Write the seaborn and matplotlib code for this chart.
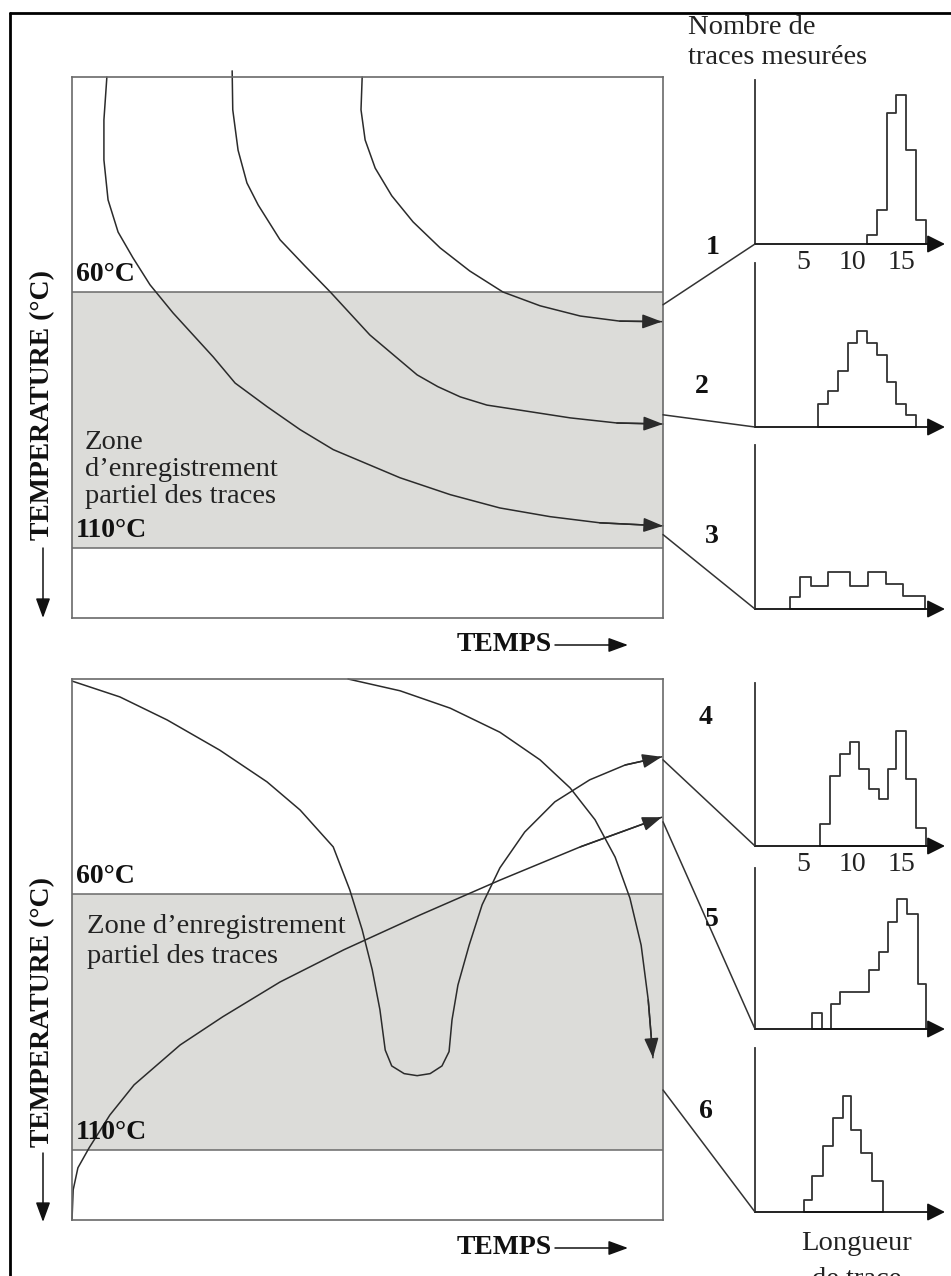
import numpy as np
import pandas as pd
import matplotlib
matplotlib.use("Agg")
import matplotlib.pyplot as plt
from matplotlib.patches import ConnectionPatch, FancyArrowPatch
from matplotlib.lines import Line2D
import seaborn as sns

sns.set_style("white")
plt.rcParams['font.family'] = ['Liberation Serif', 'DejaVu Serif']

W, H = 951, 1276

# ---------------- data ----------------
T_TOP, T_BOT = 18.0, 123.7          # temperature range of the panels (°C)
ZONE = (60, 110)                    # partial annealing zone (°C)

# upper panel: three thermal paths (time %, temperature °C)
p1_time = [49.1, 48.9, 49.6, 51.3, 54.1, 57.7, 62.3, 67.3, 72.9, 79.2, 86.0, 92.7, 99.8]
p1_temp = [18.0, 24.4, 30.3, 35.8, 41.2, 46.3, 51.4, 55.9, 60.0, 62.7, 64.7, 65.7, 65.8]
p2_time = [27.1, 27.2, 28.1, 29.6, 31.5, 35.2, 39.4, 43.7, 50.4, 58.4, 61.9, 65.7, 70.2, 75.3, 84.3, 92.2, 100.0]
p2_temp = [16.8, 24.4, 32.3, 38.7, 43.0, 49.8, 54.9, 60.0, 68.4, 76.2, 78.5, 80.5, 82.1, 83.0, 84.6, 85.6, 85.8]
p3_time = [5.9, 5.4, 5.4, 6.1, 7.8, 10.3, 13.2, 17.1, 23.9, 27.6, 33.0, 38.6, 44.2, 55.5, 64.0, 72.4, 80.9, 89.3, 100.0]
p3_temp = [18.0, 26.4, 34.2, 42.0, 48.3, 53.3, 58.6, 64.1, 72.7, 77.8, 82.4, 86.9, 90.8, 96.3, 99.6, 102.2, 103.9, 105.1, 105.7]

# lower panel: three thermal paths
p4_time = [0.0, 8.1, 16.1, 25.0, 33.0, 38.6, 44.2, 47.0, 49.1, 50.8, 52.1, 53.0, 54.1, 56.2, 58.4,
           60.6, 62.6, 63.8, 64.3, 65.3, 67.2, 69.4, 72.4, 76.6, 81.7, 87.6, 93.6, 99.8]
p4_temp = [18.4, 21.5, 26.0, 31.9, 38.1, 43.6, 50.8, 59.2, 67.0, 74.8, 82.6, 90.5, 93.6, 95.1, 95.5,
           95.1, 93.6, 90.8, 84.6, 77.8, 70.0, 62.1, 54.9, 47.9, 42.0, 37.7, 34.8, 33.2]
p5_time = [0.0, 0.2, 1.0, 2.9, 6.4, 10.5, 18.3, 25.5, 35.2, 46.0, 58.9, 72.4, 86.0, 99.8]
p5_temp = [123.7, 117.8, 113.5, 109.6, 103.2, 97.3, 89.5, 84.0, 77.2, 70.9, 64.1, 57.3, 50.8, 45.0]
p6_time = [46.7, 55.5, 64.0, 72.4, 79.2, 84.3, 88.5, 91.9, 94.4, 96.3, 97.5, 98.3]
p6_temp = [18.0, 20.3, 23.7, 28.4, 33.8, 39.3, 45.5, 52.8, 60.8, 70.0, 80.7, 92.0]

# temperature at which each histogram connector leaves the panel
conn_temp = [62.5, 84.0, 107.4, 33.8, 45.9, 98.3]

# track-length histograms (length, counts)
h1_edges = [11.5, 12.5, 13.5, 14.5, 15.5, 16.5, 17.5]
h1_counts = [0.93, 3.4, 13.1, 14.9, 9.4, 2.4]
h2_edges = [6.5, 7.5, 8.5, 9.5, 10.5, 11.5, 12.5, 13.5, 14.5, 15.5, 16.5]
h2_counts = [2.3, 3.6, 5.6, 8.4, 9.6, 8.4, 7.2, 4.5, 2.3, 1.2]
h3_edges = [3.6, 4.6, 5.7, 7.5, 9.7, 11.6, 13.4, 15.2, 17.4]
h3_counts = [1.2, 3.2, 2.3, 3.7, 2.3, 3.7, 2.5, 1.3]
h4_edges = [6.7, 7.7, 8.7, 9.7, 10.7, 11.7, 12.7, 13.6, 14.5, 15.5, 16.5, 17.5]
h4_counts = [2.2, 7.0, 9.2, 10.4, 7.7, 5.7, 4.7, 7.7, 11.5, 6.7, 1.8]
h5_edges = [5.9, 6.9, 7.8, 8.7, 11.7, 12.7, 13.7, 14.6, 15.6, 16.7, 17.6]
h5_counts = [1.6, 0.0, 2.5, 3.7, 5.9, 7.7, 10.7, 13.0, 11.5, 4.5]
h6_edges = [5.0, 5.9, 7.0, 8.0, 9.0, 9.9, 10.9, 12.0, 13.1]
h6_counts = [1.2, 3.6, 6.6, 9.4, 11.6, 8.2, 5.9, 3.1]

len_ticks = [5, 10, 15]
hist_labels = ["1", "2", "3", "4", "5", "6"]

# ---------------- figure ----------------
fig = plt.figure(figsize=(W / 100, H / 100), dpi=100)
fig.patch.set_facecolor("white")


def px_axes(x0, y0, x1, y1):
    return fig.add_axes([x0 / W, 1 - y1 / H, (x1 - x0) / W, (y1 - y0) / H])


def fx(x):
    return x / W


def fy(y):
    return 1 - y / H


LINE = "#2b2b2b"
BOX = "#6a6a6a"
GREY = "#dcdcd9"
ARROW = "-|>,head_length=0.6,head_width=0.22"
BOLD = dict(weight="bold", size=20, color="#111111")
REG = dict(size=20.5, color="#222222")


def main_panel(ax):
    ax.set_xlim(0, 100)
    ax.set_ylim(T_BOT, T_TOP)
    ax.axhspan(ZONE[0], ZONE[1], color=GREY, zorder=0, lw=0)
    ax.axhline(ZONE[0], color=BOX, lw=1.1, zorder=1)
    ax.axhline(ZONE[1], color=BOX, lw=1.1, zorder=1)
    for s in ax.spines.values():
        s.set_color(BOX)
        s.set_linewidth(1.2)
        s.set_visible(True)
    ax.set_xticks([])
    ax.set_yticks([])


def path(ax, t, T):
    sns.lineplot(x=t, y=T, sort=False, estimator=None, color=LINE, lw=1.1, ax=ax)
    ax.lines[-1].set_clip_on(False)
    ax.set_xlabel("")
    ax.set_ylabel("")
    ax.annotate("", xy=(t[-1], T[-1]), xytext=(t[-2], T[-2]),
                arrowprops=dict(arrowstyle=ARROW, color=LINE, lw=1.1,
                                mutation_scale=20, shrinkA=0, shrinkB=0),
                annotation_clip=False)


ax_up = px_axes(72, 77, 663, 618)
ax_lo = px_axes(72, 679, 663, 1220)
main_panel(ax_up)
main_panel(ax_lo)

path(ax_up, p1_time, p1_temp)
path(ax_up, p2_time, p2_temp)
path(ax_up, p3_time, p3_temp)
path(ax_lo, p4_time, p4_temp)
path(ax_lo, p5_time, p5_temp)
path(ax_lo, p6_time, p6_temp)

# temperature labels
for ax in (ax_up, ax_lo):
    ax.text(0.6, ZONE[0] - 0.9, "60°C", va="bottom", ha="left", **BOLD)
    ax.text(0.6, ZONE[1] - 0.9, "110°C", va="bottom", ha="left", **BOLD)

ax_up.text(2.2, 87.0, "Zone\nd\u2019enregistrement\npartiel des traces", va="top", ha="left",
           linespacing=1.1, **REG)
ax_lo.text(2.5, 64.0, "Zone d\u2019enregistrement\npartiel des traces", va="top", ha="left",
           linespacing=1.22, **REG)

# axis titles with arrows
for (y_txt, y_a0, y_a1) in [(540, 548, 618), (1147, 1153, 1222)]:
    fig.text(fx(43), fy(y_txt), "TEMPERATURE (°C)", rotation=90, ha="center", va="bottom", **BOLD)
    fig.add_artist(FancyArrowPatch(
        (fx(43), fy(y_a0)), (fx(43), fy(y_a1)), transform=fig.transFigure,
        arrowstyle=ARROW, mutation_scale=20, color="#111111", lw=1.1, shrinkA=0, shrinkB=0))
for y in (645, 1248):
    fig.text(fx(552), fy(y), "TEMPS", ha="right", va="center", **BOLD)
    fig.add_artist(FancyArrowPatch(
        (fx(555), fy(y)), (fx(628), fy(y)), transform=fig.transFigure,
        arrowstyle=ARROW, mutation_scale=20, color="#111111", lw=1.1, shrinkA=0, shrinkB=0))

# histograms
hist_rows = [(80, 244), (263, 427), (445, 609), (683, 846), (868, 1029), (1048, 1212)]
hist_data = [(h1_edges, h1_counts), (h2_edges, h2_counts), (h3_edges, h3_counts),
             (h4_edges, h4_counts), (h5_edges, h5_counts), (h6_edges, h6_counts)]
label_pos = [(713, 247), (702, 387), (712, 537), (706, 717), (712, 920), (706, 1112)]
HCOL = "#333333"

for i, ((top, base), (edges, counts)) in enumerate(zip(hist_rows, hist_data)):
    axh = px_axes(755, top, 945, base)
    centers = [(a + b) / 2 for a, b in zip(edges[:-1], edges[1:])]
    df = pd.DataFrame({"length": centers, "count": counts})
    sns.histplot(data=df, x="length", weights="count", bins=edges, element="step",
                 fill=True, color=HCOL, facecolor="white", edgecolor=HCOL, alpha=1,
                 linewidth=1.3, ax=axh)
    axh.set_xlim(0, 19.5)
    axh.set_ylim(0, (base - top) / 10)
    axh.set_xlabel("")
    axh.set_ylabel("")
    axh.set_facecolor("none")
    for s in ("top", "right", "bottom"):
        axh.spines[s].set_visible(False)
    axh.spines["left"].set_color(HCOL)
    axh.spines["left"].set_linewidth(1.3)
    axh.set_yticks([])
    axh.set_xticks(len_ticks)
    axh.set_xticklabels([str(v) for v in len_ticks])
    axh.tick_params(axis="x", direction="in", length=5, width=1.1, color=HCOL,
                    labelsize=20, pad=4, labelcolor="#222222",
                    labelbottom=(i in (0, 3)))
    axh.annotate("", xy=(1.0, 0), xytext=(0, 0), xycoords="axes fraction",
                 arrowprops=dict(arrowstyle="-|>,head_length=0.6,head_width=0.3",
                                 color="#111111", lw=1.3, mutation_scale=18,
                                 shrinkA=0, shrinkB=0), annotation_clip=False)
    src = ax_up if i < 3 else ax_lo
    con = ConnectionPatch(xyA=(100, conn_temp[i]), coordsA=src.transData,
                          xyB=(0, 0), coordsB=axh.transData, color=HCOL, lw=1.1)
    fig.add_artist(con)
    lx, ly = label_pos[i]
    fig.text(fx(lx), fy(ly), hist_labels[i], ha="center", va="center", **BOLD)

fig.text(fx(688), fy(28), "Nombre de", ha="left", va="center", **REG)
fig.text(fx(688), fy(57), "traces mesurées", ha="left", va="center", **REG)
fig.text(fx(857), fy(1244), "Longueur", ha="center", va="center", **REG)
fig.text(fx(857), fy(1279), "de trace", ha="center", va="center", **REG)

# outer frame
fig.add_artist(Line2D([fx(10), 1.0], [fy(12.5), fy(12.5)], transform=fig.transFigure, color="black", lw=2.0))
fig.add_artist(Line2D([fx(10), fx(10)], [fy(12.5), 0.0], transform=fig.transFigure, color="black", lw=2.0))

fig.savefig("out.png", dpi=100, facecolor="white")
